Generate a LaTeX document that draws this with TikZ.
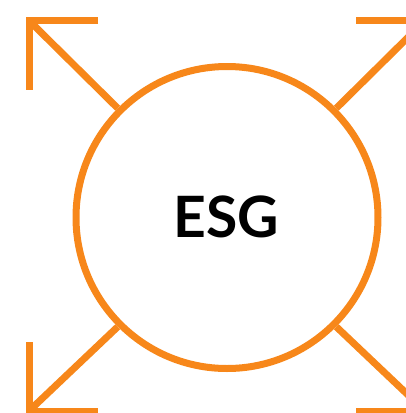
\documentclass[tikz,border=0pt]{standalone}
\usepackage{fontspec}
\setmainfont{Lato}
\definecolor{esgorange}{HTML}{F7871A}
\begin{document}
\begin{tikzpicture}[x=1pt,y=-1pt,
  ring/.style={circle,draw=esgorange,line width=7pt,minimum size=302pt,inner sep=0pt},
  arrowline/.style={draw=esgorange,line width=7pt,line cap=butt,miter limit=10},
  label/.style={font=\bfseries\fontsize{57}{64}\selectfont,text=black}]
\useasboundingbox (0,0) rectangle (405,413);
\node[ring] (c) at (227,217.5) {};
\node[label] (t) at (226,217) {ESG};
\coordinate (tl) at (29,20.5);
\coordinate (tr) at (425,20.5);
\coordinate (bl) at (29,411);
\coordinate (br) at (425,411);
\draw[arrowline] (c.135) -- (tl);
\draw[arrowline] (c.45) -- (tr);
\draw[arrowline] (c.225) -- (bl);
\draw[arrowline] (c.315) -- (br);
\draw[arrowline] ([xshift=69pt]tl) -- (tl) -- ([yshift=-69pt]tl);
\draw[arrowline] ([xshift=-69pt]tr) -- (tr) -- ([yshift=-69pt]tr);
\draw[arrowline] ([xshift=69pt]bl) -- (bl) -- ([yshift=69pt]bl);
\draw[arrowline] ([xshift=-69pt]br) -- (br) -- ([yshift=69pt]br);
\end{tikzpicture}
\end{document}
